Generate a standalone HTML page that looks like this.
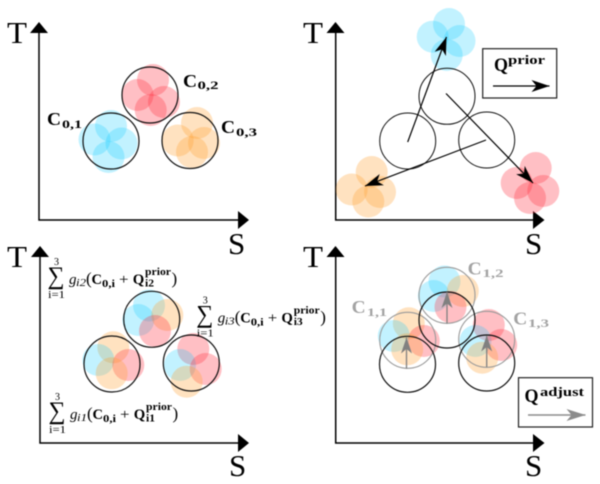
<!DOCTYPE html>
<html><head><meta charset="utf-8"><style>
html,body{margin:0;padding:0;background:#fff;width:600px;height:484px;overflow:hidden}
svg{display:block;filter:blur(.45px)}
text{font-family:"Liberation Serif",serif;fill:#000}
.b{font-weight:bold}
.i{font-style:italic}
.big{font-size:31px}
.c{font-size:18px;font-weight:bold}
.cs{font-size:12px;font-weight:bold}
.g text{fill:#a3a3a3}
.bl{fill:#00c8ff;fill-opacity:.24}
.or{fill:#ffa030;fill-opacity:.3}
.rd{fill:#ff2a3a;fill-opacity:.3}
.k{fill:none;stroke:#111;stroke-width:1.2}
.ax{fill:none;stroke:#000;stroke-width:1.5}
.s13{font-size:15px}
.p{font-size:17px}
.s9{font-size:10px}
.sg{font-size:25px}
</style></head><body>
<svg width="600" height="484" viewBox="0 0 600 484" xmlns="http://www.w3.org/2000/svg">
<defs>
<marker id="ab" markerUnits="userSpaceOnUse" markerWidth="19" markerHeight="13" refX="18" refY="6" orient="auto"><path d="M18,6 L0,0 L5,6 L0,12 Z" fill="#000"/></marker>
<marker id="ag" markerUnits="userSpaceOnUse" markerWidth="17" markerHeight="12" refX="16" refY="5.5" orient="auto"><path d="M16,5.5 L0,0 L4.5,5.5 L0,11 Z" fill="#808080"/></marker>
<marker id="ag2" markerUnits="userSpaceOnUse" markerWidth="20" markerHeight="13" refX="19" refY="6" orient="auto"><path d="M19,6 L0,0 L5,6 L0,12 Z" fill="#8c8c8c"/></marker>
</defs>

<!-- axes -->
<g class="ax">
<path d="M39,30V220H240"/><path d="M335.7,30V220H536"/>
<path d="M40,254V443H240"/><path d="M335.7,254V443H536"/>
</g>
<g fill="#000">
<path d="M30,33H48L39,22Z M238,211V229L249,220Z"/>
<path d="M326.5,33H344.5L335.5,22Z M533,211V229L544.5,220Z"/>
<path d="M31,257H49L40,246Z M238,434V452L249,443Z"/>
<path d="M326.5,257H344.5L335.5,246Z M533,434V452L544.5,443Z"/>
</g>
<text class="big" x="7" y="43" textLength="20" lengthAdjust="spacingAndGlyphs">T</text>
<text class="big" x="303" y="43" textLength="20" lengthAdjust="spacingAndGlyphs">T</text>
<text class="big" x="7" y="267" textLength="20" lengthAdjust="spacingAndGlyphs">T</text>
<text class="big" x="303" y="267" textLength="20" lengthAdjust="spacingAndGlyphs">T</text>
<text class="big" x="228" y="254">S</text>
<text class="big" x="525" y="254">S</text>
<text class="big" x="229" y="476">S</text>
<text class="big" x="525" y="476">S</text>

<!-- panel 1 -->
<g class="bl"><circle cx="111" cy="126" r="16"/><circle cx="94.5" cy="139.5" r="16"/><circle cx="121.5" cy="143.5" r="16"/><circle cx="108.5" cy="157" r="16"/></g>
<g class="rd"><circle cx="153" cy="80" r="16"/><circle cx="137.5" cy="95" r="16"/><circle cx="164" cy="102" r="16"/><circle cx="150.7" cy="110" r="16"/></g>
<g class="or"><circle cx="197" cy="123" r="16"/><circle cx="177.7" cy="140.5" r="16"/><circle cx="204" cy="143" r="16"/><circle cx="192" cy="152" r="16"/></g>
<g class="k"><circle cx="111" cy="141" r="28"/><circle cx="150" cy="95" r="28"/><circle cx="190" cy="140.5" r="28"/></g>
<text class="c" x="47" y="125" textLength="14" lengthAdjust="spacingAndGlyphs">C</text><text class="cs" x="62" y="128" textLength="20" lengthAdjust="spacingAndGlyphs">0,1</text>
<text class="c" x="183" y="87" textLength="14" lengthAdjust="spacingAndGlyphs">C</text><text class="cs" x="197.5" y="89" textLength="21" lengthAdjust="spacingAndGlyphs">0,2</text>
<text class="c" x="221" y="133" textLength="14" lengthAdjust="spacingAndGlyphs">C</text><text class="cs" x="236" y="136" textLength="21" lengthAdjust="spacingAndGlyphs">0,3</text>

<!-- panel 2 -->
<g class="bl"><circle cx="449" cy="24" r="16"/><circle cx="432.7" cy="36.7" r="16"/><circle cx="459.5" cy="41" r="16"/><circle cx="446.7" cy="55" r="16"/></g>
<g class="rd"><circle cx="535.7" cy="168" r="16"/><circle cx="516.7" cy="183" r="16"/><circle cx="543.3" cy="191" r="16"/><circle cx="530" cy="198" r="16"/></g>
<g class="or"><circle cx="371.7" cy="172" r="16"/><circle cx="351.7" cy="189.5" r="16"/><circle cx="380" cy="192" r="16"/><circle cx="368.3" cy="201.5" r="16"/></g>
<g class="k" style="stroke-width:1"><circle cx="407.7" cy="141" r="28"/><circle cx="447" cy="96.3" r="28"/><circle cx="486.7" cy="140" r="28"/></g>
<g fill="none" stroke="#000" stroke-width="1.2">
<line x1="407.7" y1="142" x2="446.5" y2="37" marker-end="url(#ab)"/>
<line x1="446" y1="93.5" x2="533" y2="183" marker-end="url(#ab)"/>
<line x1="486" y1="140" x2="365" y2="186" marker-end="url(#ab)"/>
</g>
<rect x="482.7" y="48.7" width="74" height="49.3" fill="none" stroke="#222" stroke-width="1.2"/>
<text class="b" font-size="19" x="494" y="71" textLength="14" lengthAdjust="spacingAndGlyphs">Q</text>
<text class="b" font-size="13" x="508" y="64" textLength="37" lengthAdjust="spacingAndGlyphs">prior</text>
<line x1="493" y1="86" x2="549.5" y2="86" stroke="#000" stroke-width="1.2" marker-end="url(#ab)"/>

<!-- panel 3 -->
<circle class="or" cx="113.3" cy="347.3" r="16"/><circle class="bl" cx="98.3" cy="360" r="16"/><circle class="rd" cx="128.3" cy="365" r="16"/><circle class="or" cx="111.7" cy="373.3" r="16"/>
<circle class="bl" cx="149" cy="305.5" r="16"/><circle class="bl" cx="138.3" cy="320" r="16"/><circle class="or" cx="167.3" cy="315" r="16"/><circle class="rd" cx="155" cy="331" r="16"/>
<circle class="rd" cx="193.3" cy="349" r="16"/><circle class="bl" cx="180" cy="365" r="16"/><circle class="rd" cx="205.7" cy="369" r="16"/><circle class="or" cx="186.7" cy="381.7" r="16"/>
<g class="k"><circle cx="112" cy="364" r="28"/><circle cx="151.7" cy="319.3" r="28"/><circle cx="191.3" cy="363" r="28"/></g>

<g>
<text class="sg" x="47.5" y="284" textLength="17" lengthAdjust="spacingAndGlyphs">∑</text>
<text class="s9" x="54" y="265">3</text>
<text class="s9" x="48" y="298" textLength="17" lengthAdjust="spacingAndGlyphs">i=1</text>
<text class="i s13" x="69" y="284">g</text>
<text class="i s9" x="76" y="286" textLength="10" lengthAdjust="spacingAndGlyphs">i2</text>
<text class="p" x="86" y="284">(</text>
<text class="b s13" x="91.5" y="284" textLength="10.5" lengthAdjust="spacingAndGlyphs">C</text>
<text class="b s9" x="102" y="287" textLength="13" lengthAdjust="spacingAndGlyphs">0,i</text>
<text class="s13" x="119" y="284" textLength="9.5" lengthAdjust="spacingAndGlyphs">+</text>
<text class="b s13" x="132.7" y="284" textLength="11.5" lengthAdjust="spacingAndGlyphs">Q</text>
<text class="b s9" x="145" y="275" textLength="26" lengthAdjust="spacingAndGlyphs">prior</text>
<text class="b s9" x="145" y="286.5" textLength="9" lengthAdjust="spacingAndGlyphs">i2</text>
<text class="p" x="171.5" y="284">)</text>
</g>
<g transform="translate(148.7,38.3)">
<text class="sg" x="47.5" y="284" textLength="17" lengthAdjust="spacingAndGlyphs">∑</text>
<text class="s9" x="54" y="265">3</text>
<text class="s9" x="48" y="298" textLength="17" lengthAdjust="spacingAndGlyphs">i=1</text>
<text class="i s13" x="69" y="284">g</text>
<text class="i s9" x="76" y="286" textLength="10" lengthAdjust="spacingAndGlyphs">i3</text>
<text class="p" x="86" y="284">(</text>
<text class="b s13" x="91.5" y="284" textLength="10.5" lengthAdjust="spacingAndGlyphs">C</text>
<text class="b s9" x="102" y="287" textLength="13" lengthAdjust="spacingAndGlyphs">0,i</text>
<text class="s13" x="119" y="284" textLength="9.5" lengthAdjust="spacingAndGlyphs">+</text>
<text class="b s13" x="132.7" y="284" textLength="11.5" lengthAdjust="spacingAndGlyphs">Q</text>
<text class="b s9" x="145" y="275" textLength="26" lengthAdjust="spacingAndGlyphs">prior</text>
<text class="b s9" x="145" y="286.5" textLength="9" lengthAdjust="spacingAndGlyphs">i3</text>
<text class="p" x="171.5" y="284">)</text>
</g>
<g transform="translate(1,135)">
<text class="sg" x="47.5" y="284" textLength="17" lengthAdjust="spacingAndGlyphs">∑</text>
<text class="s9" x="54" y="265">3</text>
<text class="s9" x="48" y="298" textLength="17" lengthAdjust="spacingAndGlyphs">i=1</text>
<text class="i s13" x="69" y="284">g</text>
<text class="i s9" x="76" y="286" textLength="10" lengthAdjust="spacingAndGlyphs">i1</text>
<text class="p" x="86" y="284">(</text>
<text class="b s13" x="91.5" y="284" textLength="10.5" lengthAdjust="spacingAndGlyphs">C</text>
<text class="b s9" x="102" y="287" textLength="13" lengthAdjust="spacingAndGlyphs">0,i</text>
<text class="s13" x="119" y="284" textLength="9.5" lengthAdjust="spacingAndGlyphs">+</text>
<text class="b s13" x="132.7" y="284" textLength="11.5" lengthAdjust="spacingAndGlyphs">Q</text>
<text class="b s9" x="145" y="275" textLength="26" lengthAdjust="spacingAndGlyphs">prior</text>
<text class="b s9" x="145" y="286.5" textLength="9" lengthAdjust="spacingAndGlyphs">i1</text>
<text class="p" x="171.5" y="284">)</text>
</g>

<!-- panel 4 -->
<g transform="translate(295.5,-24)">
<circle class="or" cx="113.3" cy="347.3" r="16"/><circle class="bl" cx="98.3" cy="360" r="16"/><circle class="rd" cx="128.3" cy="365" r="16"/><circle class="or" cx="111.7" cy="373.3" r="16"/>
<circle class="bl" cx="149" cy="305.5" r="16"/><circle class="bl" cx="138.3" cy="320" r="16"/><circle class="or" cx="167.3" cy="315" r="16"/><circle class="rd" cx="155" cy="331" r="16"/>
<circle class="rd" cx="193.3" cy="349" r="16"/><circle class="bl" cx="180" cy="365" r="16"/><circle class="rd" cx="205.7" cy="369" r="16"/><circle class="or" cx="186.7" cy="381.7" r="16"/>
</g>
<g fill="none" stroke="#9a9a9a" stroke-width="1.1"><circle cx="407.7" cy="340.3" r="28"/><circle cx="447" cy="295.3" r="28"/><circle cx="486.7" cy="339.3" r="28"/></g>
<g class="k"><circle cx="407.5" cy="364.3" r="28"/><circle cx="447" cy="320" r="28"/><circle cx="486.7" cy="363" r="28"/></g>
<g stroke="#808080" stroke-width="1.3">
<line x1="406.5" y1="368.7" x2="406.5" y2="337.5" marker-end="url(#ag)"/>
<line x1="447" y1="323.7" x2="447" y2="292" marker-end="url(#ag)"/>
<line x1="486.7" y1="367" x2="486.7" y2="335.5" marker-end="url(#ag)"/>
</g>
<g class="g">
<text class="c" x="351.7" y="313" textLength="14" lengthAdjust="spacingAndGlyphs">C</text><text class="cs" x="367" y="316" textLength="20" lengthAdjust="spacingAndGlyphs">1,1</text>
<text class="c" x="467.7" y="274.5" textLength="14" lengthAdjust="spacingAndGlyphs">C</text><text class="cs" x="482.5" y="277" textLength="21" lengthAdjust="spacingAndGlyphs">1,2</text>
<text class="c" x="513.3" y="324.5" textLength="14" lengthAdjust="spacingAndGlyphs">C</text><text class="cs" x="528" y="327" textLength="21" lengthAdjust="spacingAndGlyphs">1,3</text>
</g>
<rect x="518.5" y="377.7" width="74" height="49.3" fill="none" stroke="#222" stroke-width="1.2"/>
<text class="b" font-size="19" x="524.5" y="402" textLength="14" lengthAdjust="spacingAndGlyphs">Q</text>
<text class="b" font-size="13" x="540" y="396" textLength="44" lengthAdjust="spacingAndGlyphs">adjust</text>
<line x1="528" y1="415" x2="585.5" y2="415" stroke="#8c8c8c" stroke-width="1.5" marker-end="url(#ag2)"/>
</svg>
</body></html>
